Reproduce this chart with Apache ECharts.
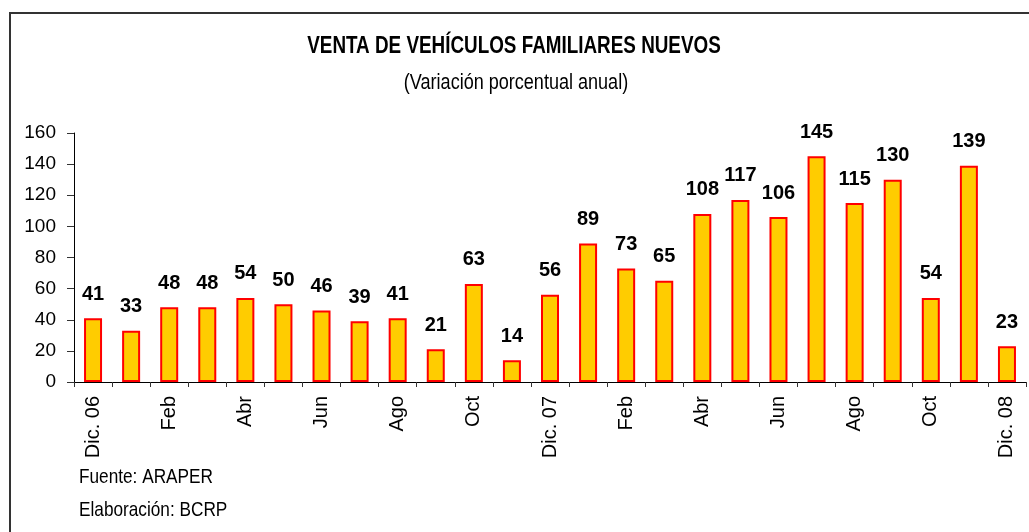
<!DOCTYPE html>
<html>
<head>
<meta charset="utf-8">
<script src="https://cdn.jsdelivr.net/npm/echarts@6/dist/echarts.min.js"></script>
<style>
  html, body { margin: 0; padding: 0; background: #fff; }
  #chart { width: 1029px; height: 532px; }
</style>
</head>
<body>
<div id="chart"></div>
<script>
// meses de Dic. 06 a Dic. 08
const months = ['Dic. 06', 'Ene', 'Feb', 'Mar', 'Abr', 'May', 'Jun', 'Jul', 'Ago', 'Set', 'Oct', 'Nov',
  'Dic. 07', 'Ene', 'Feb', 'Mar', 'Abr', 'May', 'Jun', 'Jul', 'Ago', 'Set', 'Oct', 'Nov', 'Dic. 08'];
// variación porcentual anual
const variacion = [41, 33, 48, 48, 54, 50, 46, 39, 41, 21, 63, 14, 56, 89, 73, 65, 108, 117, 106, 145, 115, 130, 54, 139, 23];
const yTicks = [0, 20, 40, 60, 80, 100, 120, 140, 160];

const arial = '"Liberation Sans", Arial, sans-serif';
// no hay Arial Narrow: se comprime Liberation Sans en horizontal
const NARROW = 0.82;

const myChart = echarts.init(document.getElementById('chart'));

function narrowText(text, x, y, size, weight, align) {
  return {
    type: 'text',
    x: x,
    y: y,
    scaleX: NARROW,
    style: {
      text: text,
      fontFamily: arial,
      fontSize: size,
      fontWeight: weight,
      fill: '#000',
      textAlign: align,
      textVerticalAlign: 'middle'
    }
  };
}

const option = {
  backgroundColor: '#fff',
  animation: false,
  graphic: [
    {
      type: 'polyline',
      shape: { points: [[10, 540], [10, 13], [1029, 13]] },
      style: { stroke: '#333', lineWidth: 2, fill: null }
    },
    narrowText('VENTA DE VEHÍCULOS FAMILIARES NUEVOS', 514, 47, 23, 'bold', 'center'),
    narrowText('(Variación porcentual anual)', 516, 82.5, 22, 'normal', 'center'),
    narrowText('Fuente: ARAPER', 79, 477.5, 21, 'normal', 'left'),
    narrowText('Elaboración: BCRP', 79, 510.5, 21, 'normal', 'left')
  ],
  grid: {
    left: 74,
    right: 3,
    top: 133,
    bottom: 150,
    containLabel: false
  },
  xAxis: {
    type: 'category',
    data: months,
    axisLine: { show: true, lineStyle: { color: '#000', width: 1 } },
    axisTick: { show: true, interval: 0, length: 5, lineStyle: { color: '#333' } },
    axisLabel: {
      interval: 1,
      rotate: 90,
      margin: 14,
      fontFamily: arial,
      fontSize: 20,
      color: '#000'
    }
  },
  yAxis: {
    type: 'value',
    min: yTicks[0],
    max: yTicks[yTicks.length - 1],
    interval: 20,
    axisLine: { show: true, lineStyle: { color: '#000', width: 1 } },
    axisTick: { show: true, inside: false, length: 7, lineStyle: { color: '#333' } },
    axisLabel: {
      margin: 18,
      fontFamily: arial,
      fontSize: 19,
      color: '#000'
    },
    splitLine: { show: false }
  },
  series: [
    {
      type: 'bar',
      data: variacion,
      barWidth: 18,
      itemStyle: {
        color: '#FFCC00',
        borderColor: '#FF0000',
        borderWidth: 2
      },
      label: {
        show: true,
        position: 'top',
        distance: 14,
        fontFamily: arial,
        fontSize: 20,
        fontWeight: 'bold',
        color: '#000'
      }
    }
  ]
};

myChart.setOption(option);
</script>
</body>
</html>
